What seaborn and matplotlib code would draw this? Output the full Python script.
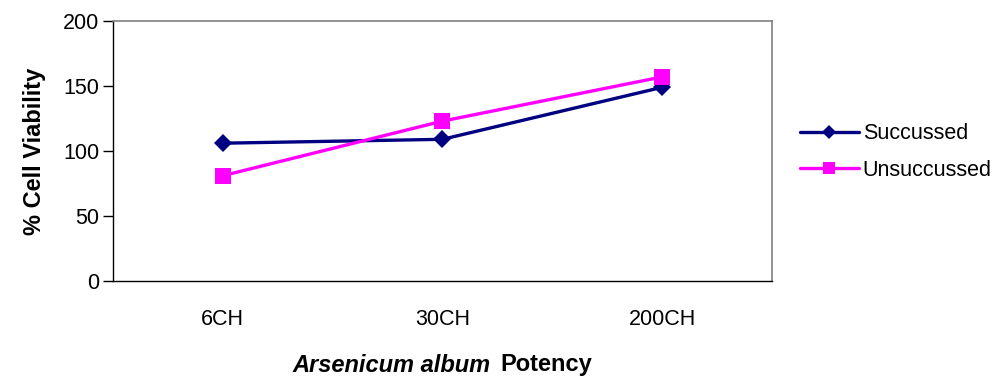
import matplotlib
matplotlib.use("Agg")
import matplotlib.pyplot as plt
import seaborn as sns
import pandas as pd

potency = ["6CH", "30CH", "200CH"]
succussed = [106, 109, 149]
unsuccussed = [81, 123, 157]
series_names = ["Succussed", "Unsuccussed"]
y_ticks = [0, 50, 100, 150, 200]

sns.set_style("white")
plt.rcParams["font.family"] = ["Liberation Sans", "DejaVu Sans"]
plt.rcParams["text.color"] = "black"
plt.rcParams["xtick.color"] = "black"
plt.rcParams["ytick.color"] = "black"
plt.rcParams["axes.labelcolor"] = "black"

FS = 15.5
LFS = 17

df = pd.DataFrame({
    "Potency": potency * 2,
    "Viability": succussed + unsuccussed,
    "Series": [series_names[0]] * 3 + [series_names[1]] * 3,
})

fig = plt.figure(figsize=(10.03, 3.8), dpi=100)
ax = fig.add_axes([113 / 1003, 1 - 281 / 380, (772 - 113) / 1003, (281 - 21) / 380])

palette = {series_names[0]: "#000080", series_names[1]: "#FF00FF"}
markers = {series_names[0]: "D", series_names[1]: "s"}
sizes = {series_names[0]: 9, series_names[1]: 11.5}

for name in series_names:
    sub = df[df["Series"] == name]
    sns.lineplot(data=sub, x="Potency", y="Viability", ax=ax, color=palette[name],
                 marker=markers[name], markersize=sizes[name], linewidth=2.4,
                 markeredgewidth=0, label=name, sort=False, legend=False)

ax.set_xlim(-0.5, 2.5)
ax.set_ylim(0, 200)
ax.set_yticks(y_ticks)
ax.set_yticklabels([str(v) for v in y_ticks], fontsize=FS)
ax.set_xticks([0, 1, 2])
ax.set_xticklabels(potency, fontsize=FS)
ax.set_xticks([-0.5, 0.5, 1.5, 2.5], minor=True)
ax.tick_params(axis="x", which="major", length=0, pad=20)
ax.tick_params(axis="x", which="minor", length=7, width=1, color="black", direction="out")
ax.tick_params(axis="y", length=7, width=1, color="black", direction="out", left=True, pad=3)

for side in ["left", "bottom"]:
    ax.spines[side].set_color("black")
    ax.spines[side].set_linewidth(1.0)
for side in ["top", "right"]:
    ax.spines[side].set_color("#808080")
    ax.spines[side].set_linewidth(1.2)

ax.set_xlabel("")
ax.set_ylabel("% Cell Viability", fontsize=LFS, fontweight="bold", labelpad=12)

fig.text(491 / 1003, 1 - 365 / 380, "Arsenicum album", fontsize=LFS, fontweight="bold",
         fontstyle="italic", ha="right", va="center")
fig.text(500 / 1003, 1 - 365 / 380, "Potency", fontsize=LFS, fontweight="bold",
         ha="left", va="center")

handles, labels = ax.get_legend_handles_labels()
fig.legend(handles, labels, loc="center left", bbox_to_anchor=(781 / 1003, 1 - 152 / 380),
           frameon=False, fontsize=FS, handlelength=2.7, handletextpad=0.2,
           labelspacing=0.72, markerscale=0.8)

fig.savefig("out.png", dpi=100)
